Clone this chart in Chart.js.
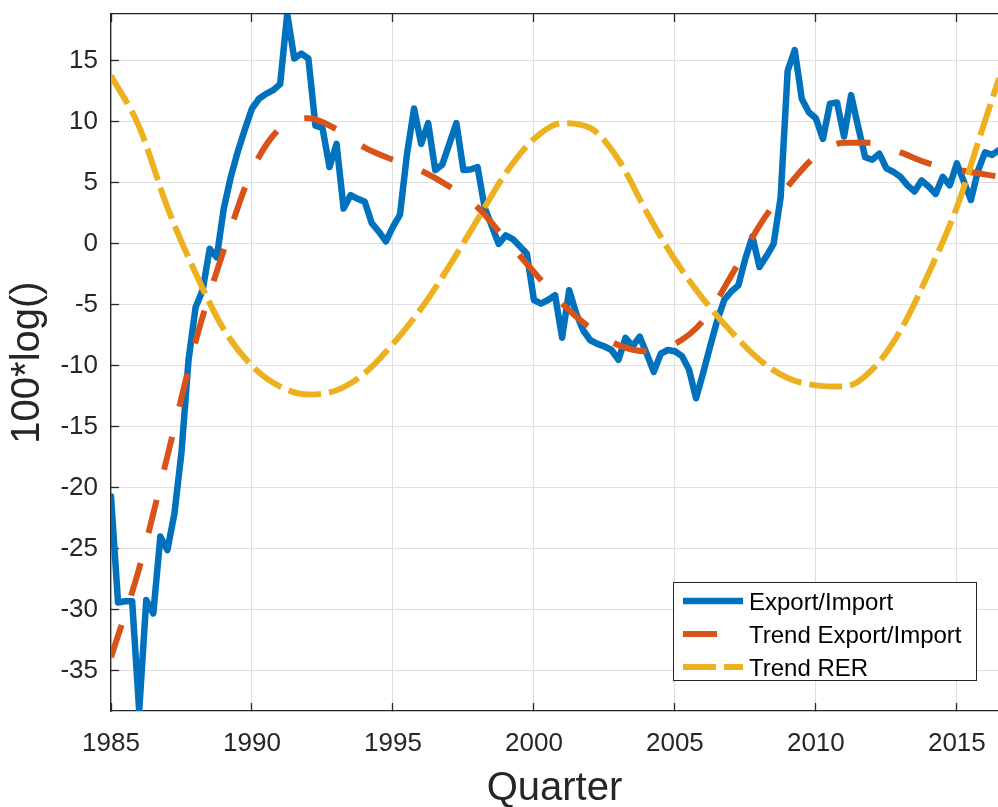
<!DOCTYPE html>
<html><head><meta charset="utf-8">
<script src="https://cdn.jsdelivr.net/npm/chart.js@4.4.1/dist/chart.umd.min.js"></script>
<style>html,body{margin:0;padding:0;background:#fff;overflow:hidden}canvas{display:block}</style>
</head><body>
<canvas id="c" width="998" height="807"></canvas>
<script>
// ---- data ----
const startYear = 1985;           // first quarter of the Export/Import series
const quartersPerYear = 4;
const exportImport = [
 -20.7,-29.4,-29.3,-29.3,-38.3,-29.2,-30.3,-24.0,-25.1,-22.1,
 -17.1,-9.5,-5.2,-3.8,-0.4,-1.1,2.9,5.5,7.6,9.4,
 11.1,11.9,12.3,12.6,13.1,18.85,15.2,15.6,15.2,9.7,
 9.5,6.3,8.2,2.9,4.0,3.7,3.45,1.7,1.0,0.2,
 1.4,2.4,7.4,11.1,8.2,9.9,6.05,6.5,8.2,9.9,
 6.05,6.1,6.3,3.0,1.5,0.0,0.7,0.4,-0.2,-0.8,
 -4.6,-4.9,-4.6,-4.2,-7.7,-3.8,-5.7,-7.1,-7.9,-8.2,
 -8.4,-8.7,-9.5,-7.7,-8.4,-7.6,-9.0,-10.5,-9.0,-8.7,
 -8.8,-9.2,-10.3,-12.66,-10.6,-8.4,-6.3,-4.6,-3.9,-3.4,
 -1.2,0.6,-1.9,-1.0,0.0,3.8,14.2,15.9,11.9,10.8,
 10.3,8.6,11.5,11.6,8.8,12.2,9.6,7.1,6.9,7.4,
 6.2,5.9,5.5,4.8,4.3,5.2,4.7,4.1,5.5,4.8,
 6.6,5.1,3.6,6.0,7.5,7.3,7.7
];
const trendYears = [1985,1986,1987,1988,1989,1990,1991,1992,1993,1994,1995,1996,1997,1998,1999,2000,
  2001,2002,2003,2004,2005,2006,2007,2008,2009,2010,2011,2012,2013,2014,2015,2016,2016.5];
const trendExportImport = [-33.9,-26.6,-17.4,-8.0,-0.5,6.0,9.5,10.3,9.4,7.9,6.9,6.0,4.7,3.0,0.35,-2.3,
  -4.9,-6.9,-8.3,-8.8,-8.2,-6.3,-2.6,1.5,4.7,7.2,8.3,8.3,7.5,6.6,6.1,5.7,5.5];
const trendRER = [13.8,9.6,3.0,-2.4,-7.0,-10.0,-11.7,-12.35,-12.0,-10.6,-8.2,-5.3,-1.8,2.0,5.8,8.6,
  9.9,9.5,6.9,2.6,-1.3,-4.5,-7.2,-9.5,-11.0,-11.6,-11.7,-10.3,-7.1,-2.4,3.0,10.1,13.6];
const seriesLabels = ['Export/Import','Trend Export/Import','Trend RER'];
const xRange = [1985, 2016.46];
const yRange = [-38.3, 18.85];
const tickStep = 5;
const xTitle = 'Quarter';
const yTitle = '100*log()';

// ---- build ----
const FONT = '"Liberation Sans", Arial, Helvetica, sans-serif';
const TXT = '#262626';
const GRID = '#dfdfdf';
const eiPoints = exportImport.map((v,i)=>({x:startYear + i/quartersPerYear, y:v}));
const teiPoints = trendYears.map((x,i)=>({x, y:trendExportImport[i]}));
const rerPoints = trendYears.map((x,i)=>({x, y:trendRER[i]}));

function noPad(s){ s.paddingTop = 0; s.paddingBottom = 0; s.paddingLeft = 0; s.paddingRight = 0; }

const legendPlugin = {
  id:'matlabLegend',
  afterDatasetsDraw(chart){
    const {ctx, chartArea} = chart;
    const boxW = 304, boxH = 99, rowH = 33;
    const right = chartArea.right - 21, bottom = chartArea.bottom - 30;
    const left = right - boxW, top = bottom - boxH;
    ctx.save();
    ctx.fillStyle = '#fff';
    ctx.fillRect(left, top, boxW, boxH);
    ctx.strokeStyle = TXT; ctx.lineWidth = 1;
    ctx.strokeRect(left+0.5, top+0.5, boxW-1, boxH-1);
    ctx.font = '24px ' + FONT;
    ctx.textBaseline = 'middle';
    ctx.textAlign = 'left';
    chart.data.datasets.forEach((ds,i)=>{
      const y = top + 19 + i*rowH;
      ctx.beginPath();
      ctx.setLineDash(ds.borderDash || []);
      ctx.lineDashOffset = 0;
      ctx.lineCap = 'butt';
      ctx.strokeStyle = ds.borderColor;
      ctx.lineWidth = ds.borderWidth;
      ctx.moveTo(left+10, y); ctx.lineTo(left+70, y);
      ctx.stroke();
      ctx.setLineDash([]);
      ctx.fillStyle = '#000';
      ctx.fillText(ds.label, left+76, y+2);
    });
    ctx.restore();
  }
};

const tickFont = {family:FONT, size:26};
new Chart(document.getElementById('c'), {
  type:'line',
  data:{datasets:[
    {label:seriesLabels[0], data:eiPoints, borderColor:'#0072BD', borderWidth:6.5, pointRadius:0,
     tension:0, borderJoinStyle:'round', borderCapStyle:'round', order:3},
    {label:seriesLabels[1], data:teiPoints, borderColor:'#D95319', borderWidth:6, pointRadius:0,
     cubicInterpolationMode:'monotone', borderDash:[34,31], borderCapStyle:'butt', order:2},
    {label:seriesLabels[2], data:rerPoints, borderColor:'#EDB120', borderWidth:6, pointRadius:0,
     cubicInterpolationMode:'monotone', borderDash:[33,8], borderCapStyle:'butt', order:1}
  ]},
  options:{
    responsive:false, animation:false, devicePixelRatio:1,
    layout:{padding:0},
    plugins:{legend:{display:false}, tooltip:{enabled:false}},
    scales:{
      x:{type:'linear', position:'bottom', min:xRange[0], max:xRange[1],
        ticks:{stepSize:tickStep, includeBounds:false, padding:25, color:TXT, font:tickFont,
               maxRotation:0, autoSkip:false, callback:v=>String(v)},
        grid:{color:GRID, lineWidth:1, tickLength:-8, tickColor:TXT, tickWidth:1.3},
        border:{color:TXT, width:1.3},
        title:{display:true, text:xTitle, color:TXT, font:{family:FONT, size:40, lineHeight:1}, padding:{top:0,bottom:-2}},
        afterFit:s=>{s.height = 96; noPad(s);}
      },
      x2:{type:'linear', position:'top', min:xRange[0], max:xRange[1],
        ticks:{display:false, stepSize:tickStep, includeBounds:false},
        grid:{drawOnChartArea:false, tickLength:-8, tickColor:TXT, tickWidth:1.3},
        border:{color:TXT, width:1.3},
        afterFit:s=>{s.height = 14; noPad(s);}
      },
      y:{type:'linear', position:'left', min:yRange[0], max:yRange[1],
        ticks:{stepSize:tickStep, includeBounds:false, padding:21, color:TXT, font:tickFont, callback:v=>String(v)},
        grid:{color:GRID, lineWidth:1, tickLength:-8, tickColor:TXT, tickWidth:1.3},
        border:{color:TXT, width:1.3},
        title:{display:true, text:yTitle, color:TXT, font:{family:FONT, size:40, lineHeight:1}, padding:{top:8,bottom:0}},
        afterFit:s=>{s.width = 111; noPad(s);}
      }
    }
  },
  plugins:[legendPlugin]
});
</script>
</body></html>
